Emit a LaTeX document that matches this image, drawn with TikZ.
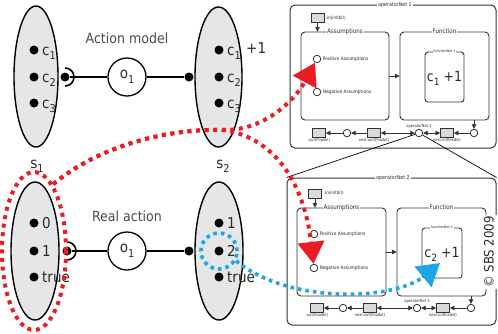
\documentclass[tikz,border=0pt]{standalone}
\usepackage{fontspec}
\setmainfont{DejaVu Sans Condensed}
\usepackage{graphicx}
\usetikzlibrary{arrows.meta,shapes.geometric,calc}
\definecolor{ellfill}{HTML}{E5E6E8}
\definecolor{rd}{HTML}{EC1C24}
\definecolor{bl}{HTML}{1EA5E6}
\definecolor{ink}{HTML}{2A2A2A}
\definecolor{frm}{HTML}{333333}
\definecolor{tgray}{HTML}{DADADA}
\newcommand\subx[1]{\raisebox{-0.3em}{\scalebox{0.72}{#1}}}
\newcommand\fsz[1]{\fontsize{#1}{#1}\selectfont}
\begin{document}
\begin{tikzpicture}[x=1pt,y=-1pt,
  sellipse/.style={ellipse,draw=black,line width=1.4pt,fill=ellfill,inner sep=0pt,minimum width=46pt,minimum height=140pt},
  blob/.style={circle,fill=black,inner sep=0pt,minimum size=9pt},
  opc/.style={circle,draw=black,line width=1.3pt,fill=white,inner sep=0pt,minimum size=38pt,font=\fsz{15},text=ink},
  lab/.style={anchor=base west,inner sep=0pt,font=\fsz{15},text=ink},
  bigt/.style={font=\fsz{14},text=ink!85},
  link/.style={draw=black,line width=1.3pt},
  sock/.style={draw=black,line width=1.6pt},
  obox/.style={draw=frm,line width=1pt,rounded corners=5pt,inner sep=0pt},
  ibox/.style={draw=frm,line width=0.9pt,rounded corners=4pt,inner sep=0pt},
  ttl/.style={fill=white,inner sep=0.8pt,text=ink},
  place/.style={circle,draw=frm,line width=0.8pt,fill=white,inner sep=0pt,minimum size=7.5pt},
  trans/.style={rectangle,draw=frm,line width=0.8pt,fill=tgray,inner sep=0pt,minimum width=13pt,minimum height=9pt},
  tinyt/.style={inner sep=0.6pt,text=ink,font=\fsz{4}},
  sarr/.style={draw=frm,line width=0.7pt,-{Triangle[length=4.5pt,width=4.5pt]}},
  darr/.style={draw=frm,line width=0.7pt,{Triangle[length=4.5pt,width=4.5pt]}-{Triangle[length=4.5pt,width=4.5pt]}},
  zoomln/.style={draw=black,line width=0.7pt},
  reddots/.style={draw=rd,line width=4pt,dash pattern=on 4pt off 4.6pt},
  bluedots/.style={draw=bl,line width=3.6pt,dash pattern=on 3.6pt off 4pt},
  bigtip/.style={-{Triangle[length=22pt,width=26pt]}},
]
\useasboundingbox (0,0) rectangle (498,333);
\clip (0,0) rectangle (498,333);

% ---------- top: action model ----------
\node[sellipse,minimum width=44pt,minimum height=141pt] (s1a) at (36,76.5) {};
\node[blob] (a1) at (34,50) {};
\node[blob] (a2) at (34,77) {};
\node[blob] (a3) at (34,103) {};
\node[lab] at (42,55) {c\subx{1}};
\node[lab] at (42,82) {c\subx{2}};
\node[lab] at (42,108) {c\subx{3}};
\node[blob] (sa) at (65,77) {};
\draw[sock] ($(sa)+(0,-9)$) .. controls ($(sa)+(5,-9)$) and ($(sa)+(9,-5)$) .. ($(sa)+(9,0)$)
  .. controls ($(sa)+(9,5)$) and ($(sa)+(5,9)$) .. ($(sa)+(0,9)$);
\node[opc] (oa) at (127,77) {o\subx{1}};
\node[sellipse,minimum width=47pt,minimum height=140pt] (s2a) at (218.5,77) {};
\node[blob] (ta) at (189,77) {};
\draw[link] (sa) -- (oa);
\draw[link] (oa) -- (ta);
\node[blob] (b1) at (219,50) {};
\node[blob] (b2) at (219,77) {};
\node[blob] (b3) at (219,103) {};
\node[lab] at (227,55) {c\subx{1}};
\node[lab] at (227,82) {c\subx{2}};
\node[lab] at (227,108) {c\subx{3}};
\node[lab] at (246,53) {+1};
\node[bigt] (am) at (127,38) {Action model};
\node[lab,anchor=base] (s1lab) at (37,168) {s\subx{1}};
\node[lab,anchor=base] (s2lab) at (223,168) {s\subx{2}};

% ---------- bottom: real action ----------
\node[sellipse,minimum width=48pt,minimum height=138pt] (s1b) at (35,251) {};
\node[blob] (c1) at (34,223) {};
\node[blob] (c2) at (34,251) {};
\node[blob] (c3) at (34,277) {};
\node[lab] at (42,228) {0};
\node[lab] at (42,256) {1};
\node[lab] at (42,282) {true};
\node[blob] (sb) at (67,251) {};
\draw[sock] ($(sb)+(0,-9)$) .. controls ($(sb)+(5,-9)$) and ($(sb)+(9,-5)$) .. ($(sb)+(9,0)$)
  .. controls ($(sb)+(9,5)$) and ($(sb)+(5,9)$) .. ($(sb)+(0,9)$);
\node[opc] (ob) at (127,251) {o\subx{1}};
\node[sellipse,minimum width=48pt,minimum height=138pt] (s2b) at (219,251) {};
\node[blob] (tb) at (189,251) {};
\draw[link] (sb) -- (ob);
\draw[link] (ob) -- (tb);
\node[blob] (d1) at (219,223) {};
\node[blob] (d2) at (219,251) {};
\node[blob] (d3) at (219,277) {};
\node[lab] at (227,228) {1};
\node[lab] at (227,256) {2};
\node[lab] at (227,282) {true};
\node[bigt] (ra) at (127,216) {Real action};

% ---------- operatorNet 1 ----------
\node[obox,minimum width=206pt,minimum height=143pt] (op1) at (393,76.5) {};
\node[ttl,font=\fsz{5.3}] at (395,5) {operatorNet 1};
\node[trans] (in1) at (317.5,18) {};
\node[tinyt,anchor=west,font=\fsz{4.5}] at (325,18) {:in(initbit)};
\node[ibox,minimum width=88pt,minimum height=88pt] (as1) at (345,76) {};
\node[ttl,font=\fsz{6.2}] at (as1.north) {Assumptions};
\node[ibox,minimum width=89pt,minimum height=88pt] (fn1) at (444.5,76) {};
\node[ttl,font=\fsz{6.2}] at (fn1.north) {Function};
\node[place] (pa1) at (317,59) {};
\node[tinyt,anchor=west,font=\fsz{4.8}] at (322,59) {Positive Assumptions};
\node[place] (na1) at (317,92) {};
\node[tinyt,anchor=west,font=\fsz{4.8}] at (322,92) {Negative Assumptions};
\node[ibox,rounded corners=3pt,minimum width=39pt,minimum height=50pt] (fnet1) at (444.5,77) {};
\node[ttl,font=\fsz{3.6}] at (fnet1.north) {functionNet 1};
\node[text=ink,font=\fsz{14},inner sep=0pt] at (444.5,78) {c\subx{1} +1};
\node[place] (p1a) at (474,133) {};
\node[trans] (t1a) at (447,133) {};
\node[place] (p1b) at (419,133) {};
\node[trans] (t1b) at (374,133) {};
\node[place] (p1c) at (347,133) {};
\node[trans] (t1c) at (319,133) {};
\node[tinyt,anchor=north] at (t1a.south) {next:in(finalbit)};
\node[tinyt,anchor=north] at (t1b.south) {next:out(finalbit)};
\node[tinyt,anchor=north] at (t1c.south) {:out(finalbit)};
\node[tinyt,anchor=south] at (p1b.north) {operatorNet 2};
\draw[sarr] (in1) -- (in1 |- as1.north);
\draw[sarr] (as1) -- (fn1);
\draw[sarr] (fn1.south -| p1a) -- (p1a);
\draw[sarr] (p1a) -- (t1a);
\draw[darr] (t1a) -- (p1b);
\draw[darr] (p1b) -- (t1b);
\draw[sarr] (t1b) -- (p1c);
\draw[sarr] (p1c) -- (t1c);

% ---------- operatorNet 2 ----------
\node[obox,minimum width=209pt,minimum height=147pt] (op2) at (391.5,251.5) {};
\draw[zoomln] (p1b) -- (op2.north west);
\draw[zoomln] (p1b) -- (op2.north east);
\node[ttl,font=\fsz{5.3}] at (393,178) {operatorNet 2};
\node[trans] (in2) at (315,193.5) {};
\node[tinyt,anchor=west,font=\fsz{4.5}] at (323,193.5) {:in(initbit)};
\node[ibox,minimum width=89pt,minimum height=88pt] (as2) at (341.5,252) {};
\node[ttl,font=\fsz{6.2}] at (as2.north) {Assumptions};
\node[ibox,minimum width=89pt,minimum height=88pt] (fn2) at (441.5,252) {};
\node[ttl,font=\fsz{6.2}] at (fn2.north) {Function};
\node[place] (pa2) at (314,234) {};
\node[tinyt,anchor=west,font=\fsz{4.8}] at (319,234) {Positive Assumptions};
\node[place] (na2) at (314,268) {};
\node[tinyt,anchor=west,font=\fsz{4.8}] at (319,268) {Negative Assumptions};
\node[ibox,rounded corners=3pt,minimum width=40pt,minimum height=50pt] (fnet2) at (442,253) {};
\node[ttl,font=\fsz{3.6}] at (fnet2.north) {functionNet 1};
\node[text=ink,font=\fsz{14},inner sep=0pt] at (442,254) {c\subx{2} +1};
\node[place] (p2a) at (471,308) {};
\node[trans] (t2a) at (443,308) {};
\node[place] (p2b) at (417,308) {};
\node[trans] (t2b) at (370,308) {};
\node[place] (p2c) at (343,308) {};
\node[trans] (t2c) at (317,308) {};
\node[tinyt,anchor=north] at (t2a.south) {next:in(finalbit)};
\node[tinyt,anchor=north] at (t2b.south) {next:out(finalbit)};
\node[tinyt,anchor=north] at (t2c.south) {:out(finalbit)};
\node[tinyt,anchor=south] at (p2b.north) {operatorNet 3};
\draw[sarr] (in2) -- (in2 |- as2.north);
\draw[sarr] (as2) -- (fn2);
\draw[sarr] (fn2.south -| p2a) -- (p2a);
\draw[sarr] (p2a) -- (t2a);
\draw[darr] (t2a) -- (p2b);
\draw[darr] (p2b) -- (t2b);
\draw[sarr] (t2b) -- (p2c);
\draw[sarr] (p2c) -- (t2c);

\node[rotate=90,anchor=base,font=\fsz{13},text=ink,fill=white,inner sep=0.8pt,text depth=2.5pt] (cr) at (493.5,252) {© SBS 2009};

% ---------- highlights ----------
\node[ellipse,reddots,inner sep=0pt,minimum width=64pt,minimum height=158pt] (hl) at (34,251) {};
\node[circle,bluedots,inner sep=0pt,minimum size=36pt] (hb) at (219,251) {};
\coordinate (btip) at (440,263);
\draw[reddots,bigtip] (hl.74) .. controls (100,145) and (170,128) .. (225,130)
  .. controls (265,130) and (295,100) .. (pa1);
\draw[reddots,bigtip] (hl.74) .. controls (100,145) and (170,128) .. (225,130)
  .. controls (280,140) and (305,190) .. (na2);
\draw[bluedots,bigtip] (hb.-30) .. controls (290,305) and (395,300) .. (btip);
\end{tikzpicture}
\end{document}
